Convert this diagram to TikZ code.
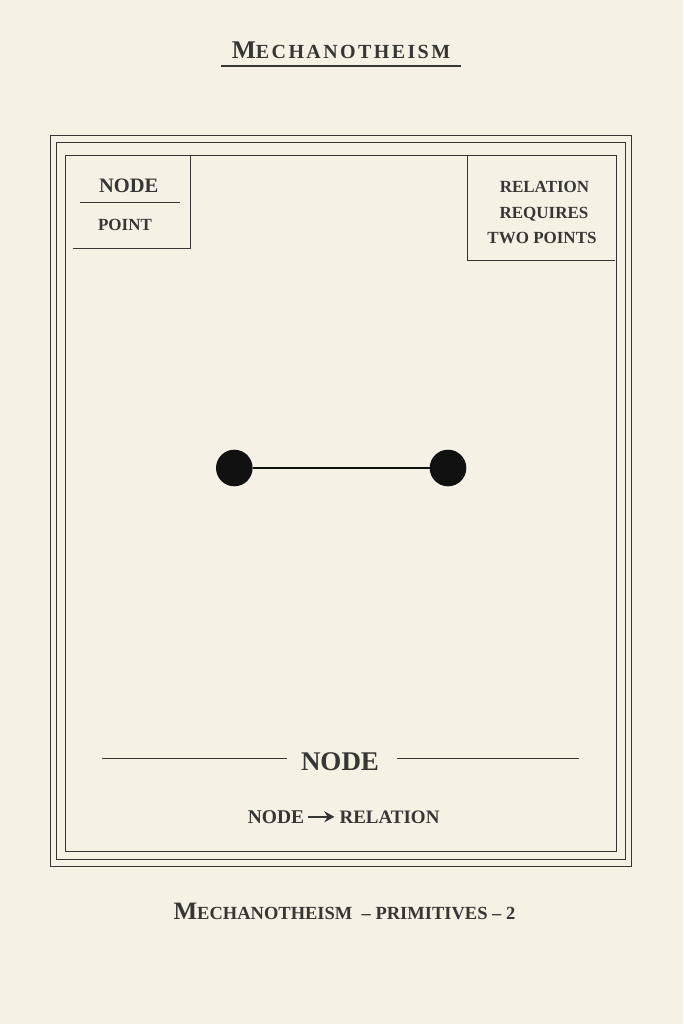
\documentclass[tikz,border=0pt]{standalone}
\usepackage{fontspec}
\setmainfont{Liberation Serif}
\newfontfamily\spacedserif[LetterSpace=12]{Liberation Serif}
\usetikzlibrary{arrows.meta}
\definecolor{paper}{HTML}{F5F1E5}
\definecolor{ink}{HTML}{363634}
\definecolor{dot}{HTML}{111111}
\begin{document}
\begin{tikzpicture}[x=1pt,y=-1pt,
  frame/.style={draw=ink,line width=0.9pt},
  rule/.style={draw=ink,line width=0.8pt},
  lbl/.style={text=ink,font=\bfseries,inner sep=0pt,anchor=base},
  small/.style={lbl,font=\bfseries\fontsize{17}{20}\selectfont},
  dotnode/.style={circle,fill=dot,minimum size=36.6pt,inner sep=0pt}]
\useasboundingbox[fill=paper] (0,0) rectangle (683,1024);
% title
\node[lbl,font=\spacedserif\bfseries\fontsize{20}{22}\selectfont] (title) at (341,58.3) {{\fontsize{25.5}{26}\selectfont M}ECHANOTHEISM};
\coordinate (tl) at (221,66);
\coordinate (tr) at (461,66);
\draw[draw=ink,line width=1.6pt] (tl) -- (tr);
% frames
\draw[frame] (50,135) rectangle (631,866);
\draw[frame] (56,142) rectangle (625,859);
\draw[frame] (65,155) rectangle (616,851);
% top-left box
\coordinate (a1) at (190,155);
\coordinate (a2) at (190,248);
\coordinate (a3) at (73,248);
\draw[frame] (a1) -- (a2) -- (a3);
\node[lbl,font=\bfseries\fontsize{20.5}{22}\selectfont] (nodehead) at (128.7,192.3) {NODE};
\coordinate (u1) at (80,202.5);
\coordinate (u2) at (180,202.5);
\draw[rule] (u1) -- (u2);
\node[small] (point) at (125,230) {POINT};
% top-right box
\coordinate (b1) at (467,155);
\coordinate (b2) at (467,260);
\coordinate (b3) at (615,260);
\draw[frame] (b1) -- (b2) -- (b3);
\node[small] (r1) at (544.5,192.7) {RELATION};
\node[small] (r2) at (544,218.3) {REQUIRES};
\node[small] (r3) at (542,243.3) {TWO POINTS};
% dots
\node[dotnode] (p1) at (234.3,468) {};
\node[dotnode] (p2) at (448,468) {};
\draw[draw=dot,line width=1.8pt] (p1) -- (p2);
% bottom heading
\node[lbl,font=\bfseries\fontsize{27}{30}\selectfont] (nodebig) at (340,770.7) {NODE};
\coordinate (l1) at (102,758);
\coordinate (l2) at (287,758);
\coordinate (l3) at (397,758);
\coordinate (l4) at (579,758);
\draw[rule] (l1) -- (l2);
\draw[rule] (l3) -- (l4);
\node[lbl,font=\bfseries\fontsize{19.5}{22}\selectfont] (nr1) at (276,823.3) {NODE};
\node[lbl,font=\bfseries\fontsize{19}{22}\selectfont] (nr2) at (389.5,823.3) {RELATION};
\draw[draw=ink,line width=2.4pt,-{Stealth[length=10pt,width=11pt]}] ([xshift=4pt,yshift=6.5pt]nr1.base east) -- ([xshift=-5pt,yshift=6.5pt]nr2.base west);
% footer
\node[lbl,font=\bfseries\fontsize{18.5}{20}\selectfont] (footer) at (344.5,919.3) {{\fontsize{25}{25}\selectfont M}ECHANOTHEISM\ \ –\ PRIMITIVES\ –\ 2};
\end{tikzpicture}
\end{document}
